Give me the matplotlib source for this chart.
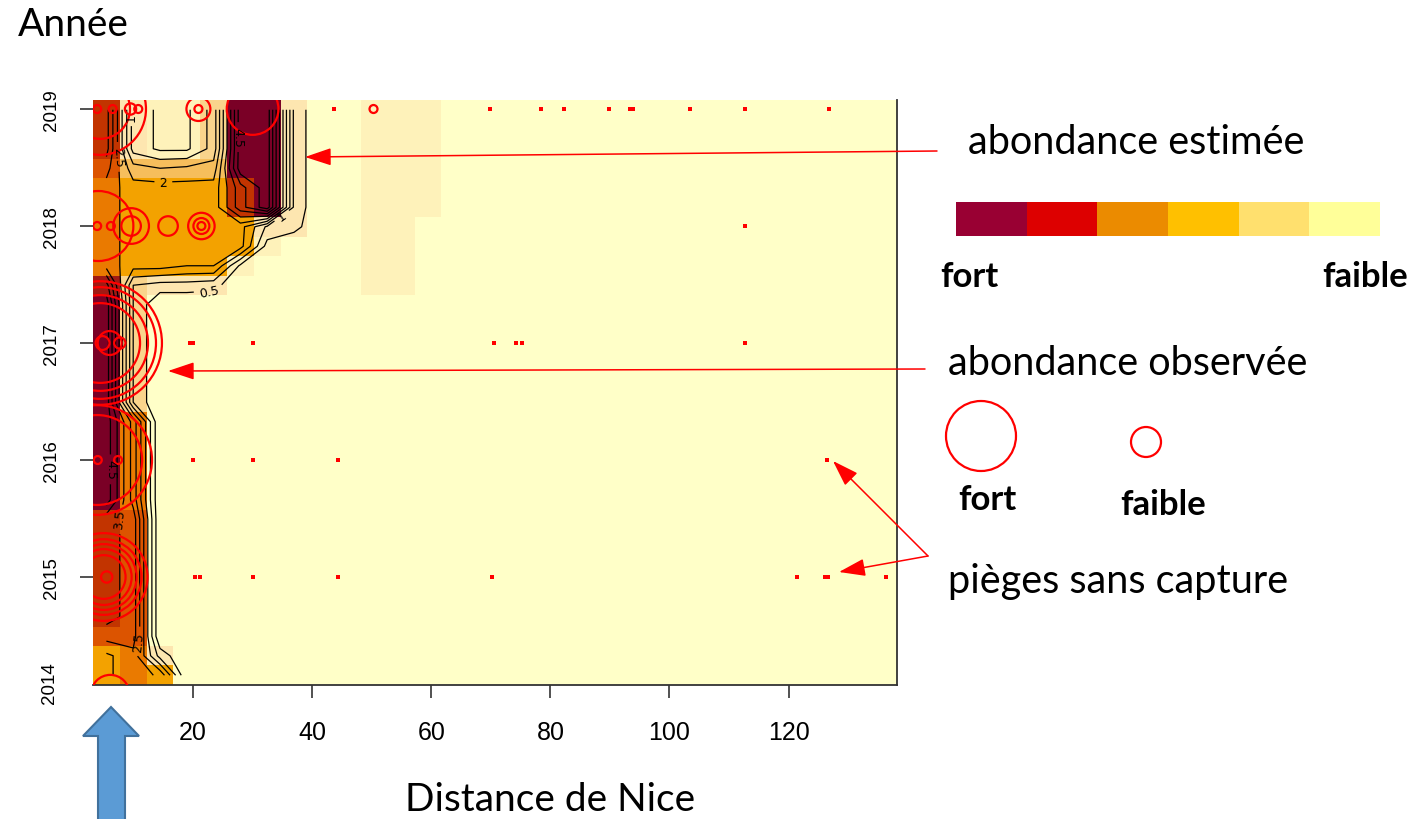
import numpy as np
import matplotlib.pyplot as plt
from matplotlib.colors import ListedColormap, BoundaryNorm
from matplotlib.patches import Rectangle, Circle, Polygon

W, H = 1423, 820

# grid: 30 distance bins (km) x 30 two-month bins
dist_edges = 3.2 + 4.5 * np.arange(31)
year_edges = 2014.077 + np.arange(31) / 6

# estimated abundance, first 9 distance bins, rows from latest (top) to oldest
est_left = [
    [3.7, 0.8, 0.4, 0.4, 1.2, 4.8, 4.8, 0.9, 0.0],
    [3.7, 0.8, 0.4, 0.4, 1.2, 4.8, 4.8, 0.9, 0.0],
    [3.7, 0.8, 0.4, 0.4, 1.2, 4.8, 4.8, 0.9, 0.0],
    [3.2, 1.7, 1.5, 1.6, 1.7, 4.8, 4.8, 0.9, 0.0],
    [2.8, 2.2, 2.2, 2.2, 2.2, 3.8, 4.8, 0.9, 0.0],
    [2.8, 2.2, 2.2, 2.2, 2.2, 3.8, 4.8, 0.9, 0.0],
    [2.8, 2.2, 2.2, 2.2, 2.2, 2.2, 0.9, 0.7, 0.0],
    [2.8, 2.2, 2.2, 2.2, 2.2, 2.2, 0.3, 0.0, 0.0],
    [2.8, 2.2, 2.2, 2.0, 2.0, 0.4, 0.0, 0.0, 0.0],
    [4.2, 1.0, 0.8, 0.8, 0.7, 0.0, 0.0, 0.0, 0.0],
    [4.8, 1.0, 0.0, 0.0, 0.0, 0.0, 0.0, 0.0, 0.0],
    [4.8, 1.0, 0.0, 0.0, 0.0, 0.0, 0.0, 0.0, 0.0],
    [4.8, 1.0, 0.0, 0.0, 0.0, 0.0, 0.0, 0.0, 0.0],
    [4.8, 1.0, 0.0, 0.0, 0.0, 0.0, 0.0, 0.0, 0.0],
    [4.8, 1.0, 0.0, 0.0, 0.0, 0.0, 0.0, 0.0, 0.0],
    [4.8, 1.0, 0.0, 0.0, 0.0, 0.0, 0.0, 0.0, 0.0],
    [4.8, 2.8, 0.0, 0.0, 0.0, 0.0, 0.0, 0.0, 0.0],
    [4.8, 2.8, 0.0, 0.0, 0.0, 0.0, 0.0, 0.0, 0.0],
    [4.8, 2.8, 0.0, 0.0, 0.0, 0.0, 0.0, 0.0, 0.0],
    [4.8, 2.8, 0.0, 0.0, 0.0, 0.0, 0.0, 0.0, 0.0],
    [4.8, 2.8, 0.0, 0.0, 0.0, 0.0, 0.0, 0.0, 0.0],
    [3.7, 3.3, 0.0, 0.0, 0.0, 0.0, 0.0, 0.0, 0.0],
    [3.7, 3.3, 0.0, 0.0, 0.0, 0.0, 0.0, 0.0, 0.0],
    [3.7, 3.3, 0.0, 0.0, 0.0, 0.0, 0.0, 0.0, 0.0],
    [3.7, 3.3, 0.0, 0.0, 0.0, 0.0, 0.0, 0.0, 0.0],
    [3.7, 3.3, 0.0, 0.0, 0.0, 0.0, 0.0, 0.0, 0.0],
    [3.7, 3.3, 0.0, 0.0, 0.0, 0.0, 0.0, 0.0, 0.0],
    [3.2, 3.3, 0.0, 0.0, 0.0, 0.0, 0.0, 0.0, 0.0],
    [2.4, 2.8, 0.8, 0.0, 0.0, 0.0, 0.0, 0.0, 0.0],
    [2.4, 2.8, 2.4, 0.0, 0.0, 0.0, 0.0, 0.0, 0.0],
]
# faint patch further out (bin index, number of top rows, value)
est_patch = [(10, 10, 0.3), (11, 10, 0.3), (12, 6, 0.3)]

# observed abundance (traps with captures)
obs_dist = [3.9, 6.5, 9.5, 10.8, 4.4, 4.4, 20.9, 20.9, 30.0, 50.3,
            3.9, 6.2, 9.6, 9.6, 15.8, 21.4, 21.4, 21.4, 4.1,
            4.4, 4.4, 4.4, 4.4, 6.0, 4.8, 7.7,
            3.9, 3.9, 4.0, 7.4,
            5.0, 5.0, 5.0, 5.0, 5.0, 5.5,
            6.1]
obs_year = [2019] * 10 + [2018] * 9 + [2017] * 7 + [2016] * 4 + [2015] * 6 + [2014]
obs_n = [1, 1, 2, 1, 132, 56, 9, 1, 42, 1,
         1, 1, 6, 20, 6, 11, 4, 1, 77,
         240, 196, 144, 100, 9, 3, 2,
         189, 127, 1, 1,
         121, 90, 68, 49, 30, 2,
         23]

# traps without capture
zero_dist = [43.6, 69.9, 78.5, 82.3, 89.9, 93.3, 93.8, 103.4, 112.6, 126.8,
             112.6,
             19.5, 20.0, 30.0, 70.5, 74.2, 75.3, 112.6,
             20.0, 30.0, 44.3, 126.4,
             20.4, 21.2, 30.0, 44.3, 70.2, 121.4, 126.1, 126.6, 136.4]
zero_year = [2019] * 10 + [2018] + [2017] * 7 + [2016] * 4 + [2015] * 9

map_bounds = [0, 0.25, 0.5, 1.0, 1.5, 2.0, 2.5, 3.0, 3.5, 4.0, 4.5, 6.0]
map_colors = ['#FFFFC8', '#FEF2BA', '#FDE6B0', '#F9D48C', '#F6BE5C', '#F3A200',
              '#EA7A00', '#DC5400', '#C23400', '#A01A14', '#7A0026']
legend_colors = ['#990033', '#DD0000', '#EB8B00', '#FFC000', '#FFE06E', '#FFFF99']

text_font = 'Lato'
tick_font = 'Liberation Sans'


def fx(px):
    return px / W


def fy(py):
    return 1 - py / H


Z = np.zeros((30, 30))
Z[:, :9] = np.array(est_left)
for col, nrows, val in est_patch:
    Z[:nrows, col] = val
Z = np.flipud(Z)

fig = plt.figure(figsize=(W / 100, H / 100), dpi=100)
ax = fig.add_axes([fx(93), fy(686), fx(897 - 93), (686 - 101) / H])

cmap = ListedColormap(map_colors)
norm = BoundaryNorm(map_bounds, cmap.N)
ax.pcolormesh(dist_edges, year_edges, Z, cmap=cmap, norm=norm,
              shading='flat', antialiased=False, zorder=1)

xc = (dist_edges[:-1] + dist_edges[1:]) / 2
yc = (year_edges[:-1] + year_edges[1:]) / 2
cs = ax.contour(xc, yc, Z, levels=np.arange(0.5, 5.0, 0.5),
                colors='black', linewidths=0.9, zorder=2)
label_pos = [(11.4, 2018.93), (15.0, 2018.39), (7.2, 2018.59), (22.6, 2017.47),
             (6.4, 2015.92), (7.1, 2015.5), (10.8, 2014.45), (27.4, 2018.76),
             (35.0, 2018.08)]
ax.clabel(cs, fmt=lambda v: f'{v:g}', fontsize=9, inline=True, manual=label_pos)

ax.scatter(obs_dist, obs_year, s=33 * np.array(obs_n), facecolors='none',
           edgecolors='red', linewidths=1.6, zorder=3)
ax.scatter(zero_dist, zero_year, s=6, c='red', marker='s', linewidths=0, zorder=3)

ax.set_xlim(dist_edges[0], dist_edges[-1])
ax.set_ylim(year_edges[0], year_edges[-1])
ax.set_xticks([20, 40, 60, 80, 100, 120])
ax.set_yticks([2015, 2016, 2017, 2018, 2019])
ax.tick_params(axis='x', length=9, width=1.2, color='#333333', labelsize=18, pad=16)
ax.tick_params(axis='y', length=9.5, width=1.2, color='#333333', labelsize=13.5,
               pad=14, labelrotation=90)
for lab in ax.get_xticklabels() + ax.get_yticklabels():
    lab.set_family(tick_font)
for lab in ax.get_yticklabels():
    lab.set_va('center')
ax.text(-0.0535, 2014.1, '2014', transform=ax.get_yaxis_transform(), rotation=90,
        ha='center', va='center', fontsize=13.5, family=tick_font, clip_on=False)
for side in ['top', 'left']:
    ax.spines[side].set_visible(False)
for side in ['bottom', 'right']:
    ax.spines[side].set_color('#333333')
    ax.spines[side].set_linewidth(1.3)

# annotations
fig.text(fx(18), fy(25), 'Année', fontsize=28, family=text_font, va='center')
fig.text(fx(968), fy(143), 'abondance estimée', fontsize=28.5, family=text_font, va='center')
fig.text(fx(948), fy(364), 'abondance observée', fontsize=28.5, family=text_font, va='center')
fig.text(fx(948), fy(582), 'pièges sans capture', fontsize=28.5, family=text_font, va='center')
fig.text(fx(405), fy(800), 'Distance de Nice', fontsize=28, family=text_font, va='center')
fig.text(fx(940), fy(277), 'fort', fontsize=25, weight='bold', family=text_font, va='center')
fig.text(fx(1322), fy(277), 'faible', fontsize=25, weight='bold', family=text_font, va='center')
fig.text(fx(958), fy(500), 'fort', fontsize=25, weight='bold', family=text_font, va='center')
fig.text(fx(1120), fy(505), 'faible', fontsize=25, weight='bold', family=text_font, va='center')

# colour legend for estimated abundance
x0 = 956
step = (1380 - 956) / len(legend_colors)
for i, c in enumerate(legend_colors):
    fig.add_artist(Rectangle((fx(x0 + i * step), fy(237)), fx(step), (237 - 203) / H,
                             facecolor=c, edgecolor='none', transform=fig.transFigure))

# circle legend for observed abundance
for cx, cy, r in [(981, 437, 35), (1146, 443, 15)]:
    fig.add_artist(Circle((cx, H - cy), r, facecolor='none', edgecolor='red',
                          linewidth=1.6, transform=None))

arrow_kw = dict(arrowstyle='-|>,head_length=0.9,head_width=0.3', color='red',
                lw=1.1, mutation_scale=18, shrinkA=0, shrinkB=0)
for (x0a, y0a), (x1a, y1a) in [((937, 152), (305, 158)), ((925, 370), (168, 372)),
                                 ((928, 557), (833, 462)), ((928, 557), (839, 573))]:
    ax.annotate('', xy=(fx(x1a), fy(y1a)), xycoords='figure fraction',
                xytext=(fx(x0a), fy(y0a)), textcoords='figure fraction',
                arrowprops=arrow_kw, annotation_clip=False)

# blue arrow marking Nice
blue_pts = [(98, 825), (98, 737), (83, 737), (111, 708), (139, 737), (125, 737), (125, 825)]
fig.add_artist(Polygon([(fx(px), fy(py)) for px, py in blue_pts], closed=True,
                       facecolor='#5B9BD5', edgecolor='#41719C', linewidth=1.5,
                       transform=fig.transFigure))

fig.savefig('out.png', dpi=100)
